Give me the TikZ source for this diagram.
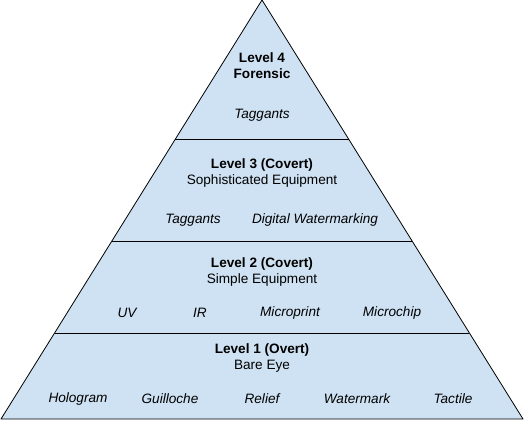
\documentclass[tikz,border=0pt]{standalone}
\usepackage{fontspec}
\setmainfont{Liberation Sans}
\usepackage{xcolor}
\usepackage{tikz}
\usetikzlibrary{calc}
\definecolor{tierblue}{HTML}{CFE2F3}

\begin{document}
\begin{tikzpicture}[
      x=1pt, y=-1pt,
      every node/.style={inner sep=0pt, font=\fontsize{13.6}{16}\selectfont},
      title/.style={align=center},
      item/.style={font=\fontsize{13.6}{16}\selectfont\itshape}
    ]
    \useasboundingbox (0,0) rectangle (525,421);
    \coordinate (apex) at (262,0);
    \coordinate (bl) at (1,419);
    \coordinate (br) at (523,419);
    \draw[fill=tierblue, line width=0.8pt, line join=round] (apex) -- (bl) -- (br) -- cycle;
    % tier dividers
    \foreach \f in {0.3317,0.5764,0.7947}
      \draw[line width=0.8pt] ($(apex)!\f!(bl)$) -- ($(apex)!\f!(br)$);

    % level 4
    \node[title] (l4) at (262,66) {\textbf{Level 4}\\\textbf{Forensic}};
    \node[item] (l4a) at (262,115) {Taggants};
    % level 3
    \node[title] (l3) at (262,173) {\textbf{Level 3 (Covert)}\\Sophisticated Equipment};
    \node[item] (l3a) at (193,220) {Taggants};
    \node[item] (l3b) at (315,220) {Digital Watermarking};
    % level 2
    \node[title] (l2) at (262,272) {\textbf{Level 2 (Covert)}\\Simple Equipment};
    \node[item] (l2a) at (127,313) {UV};
    \node[item] (l2b) at (200,313) {IR};
    \node[item] (l2c) at (290,313) {Microprint};
    \node[item] (l2d) at (392,313) {Microchip};
    % level 1
    \node[title] (l1) at (262,358) {\textbf{Level 1 (Overt)}\\Bare Eye};
    \node[item] (l1a) at (78,399) {Hologram};
    \node[item] (l1b) at (170,399) {Guilloche};
    \node[item] (l1c) at (262,399) {Relief};
    \node[item] (l1d) at (357,399) {Watermark};
    \node[item] (l1e) at (453,399) {Tactile};
\end{tikzpicture}
\end{document}
